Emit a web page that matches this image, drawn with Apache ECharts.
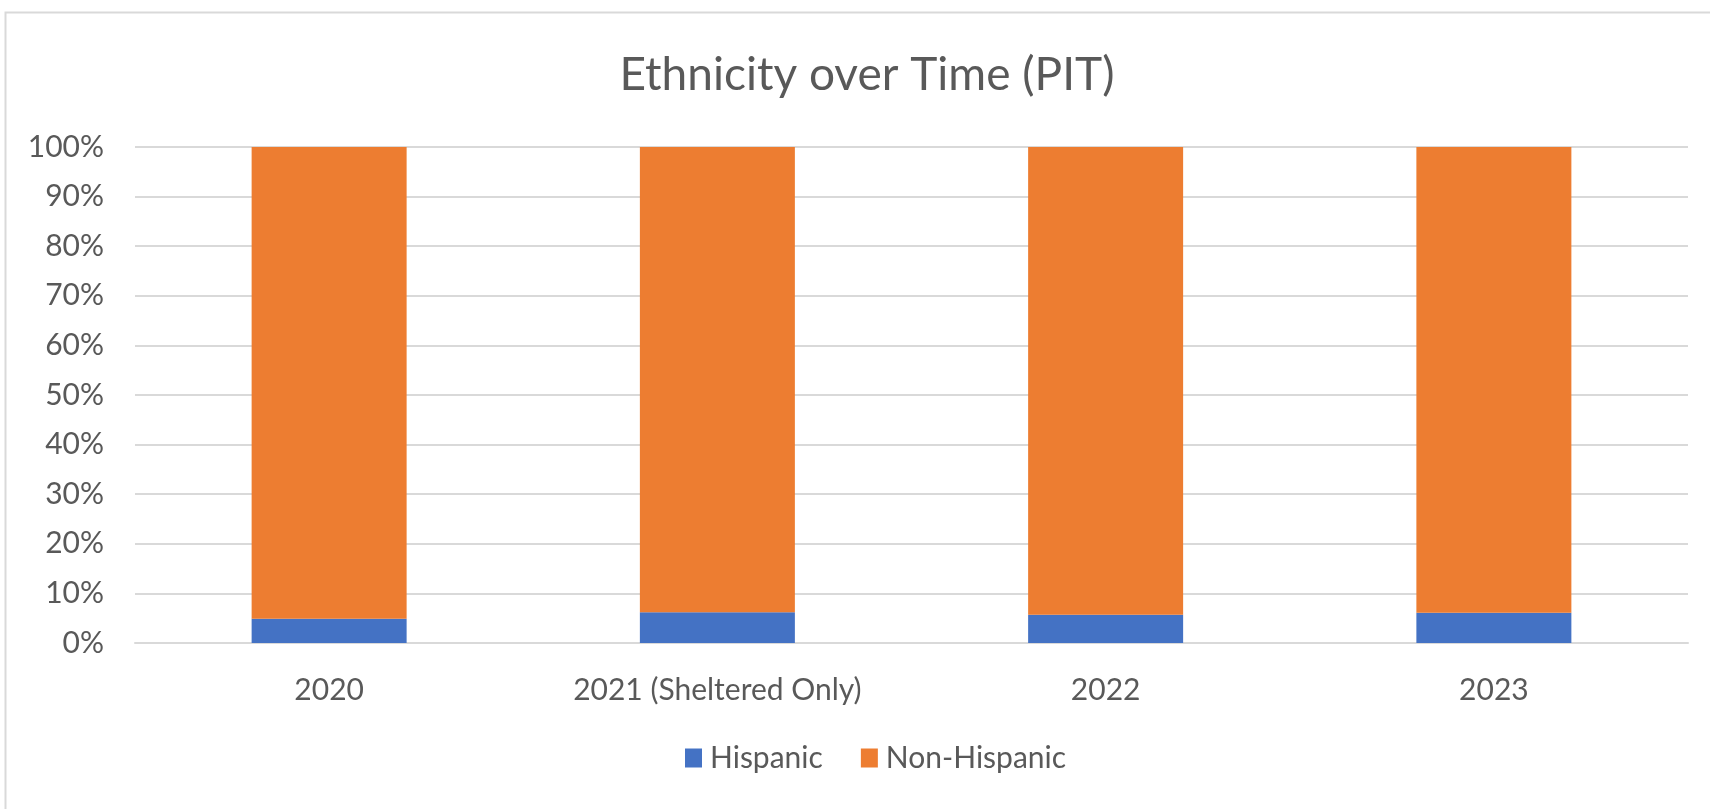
<!DOCTYPE html>
<html>
<head>
<meta charset="utf-8">
<script src="https://cdn.jsdelivr.net/npm/echarts@6/dist/echarts.min.js"></script>
<style>
html,body{margin:0;padding:0;background:#fff;}
#c{width:1710px;height:809px;}
</style>
</head>
<body>
<div id="c"></div>
<script>
var categories = ['2020', '2021 (Sheltered Only)', '2022', '2023'];
var hispanic = [4.9, 6.2, 5.7, 6.1];
var nonHispanic = [95.1, 93.8, 94.3, 93.9];
var yTicks = [0, 10, 20, 30, 40, 50, 60, 70, 80, 90, 100];

var font = 'Lato, "Open Sans", sans-serif';
var chart = echarts.init(document.getElementById('c'));
chart.setOption({
  animation: false,
  backgroundColor: '#fff',
  graphic: [{
    type: 'rect', left: 3, top: 10, silent: true,
    shape: { width: 1720, height: 820 },
    style: { fill: 'none', stroke: '#d9d9d9', lineWidth: 2 }
  }],
  title: {
    text: 'Ethnicity over Time (PIT)',
    left: 867, textAlign: 'center', top: 52, padding: 0,
    textStyle: { fontFamily: font, fontSize: 46, fontWeight: 'normal', color: '#595959' }
  },
  grid: { left: 135, right: 22, top: 147, bottom: 166, containLabel: false },
  legend: {
    data: ['Hispanic', 'Non-Hispanic'],
    left: 685, top: 743, padding: 0,
    itemWidth: 17, itemHeight: 19, itemGap: 38,
    icon: 'rect',
    textStyle: { fontFamily: font, fontSize: 30, color: '#595959', padding: [0, 0, 0, 3] }
  },
  xAxis: {
    type: 'category', data: categories,
    axisLine: { lineStyle: { color: '#d9d9d9', width: 2 } },
    axisTick: { show: false },
    axisLabel: { fontFamily: font, fontSize: 30, color: '#595959', margin: 32 }
  },
  yAxis: {
    type: 'value', min: 0, max: 100, interval: 10,
    axisLine: { show: false }, axisTick: { show: false },
    splitLine: { lineStyle: { color: '#d9d9d9', width: 2 } },
    axisLabel: {
      fontFamily: font, fontSize: 30, color: '#595959', margin: 31,
      formatter: function (v) { return yTicks.indexOf(v) >= 0 ? v + '%' : ''; }
    }
  },
  series: [
    { name: 'Hispanic', type: 'bar', stack: 't', data: hispanic, barWidth: 155,
      itemStyle: { color: '#4472C4' } },
    { name: 'Non-Hispanic', type: 'bar', stack: 't', data: nonHispanic, barWidth: 155,
      itemStyle: { color: '#ED7D31' } }
  ]
});
</script>
</body>
</html>
